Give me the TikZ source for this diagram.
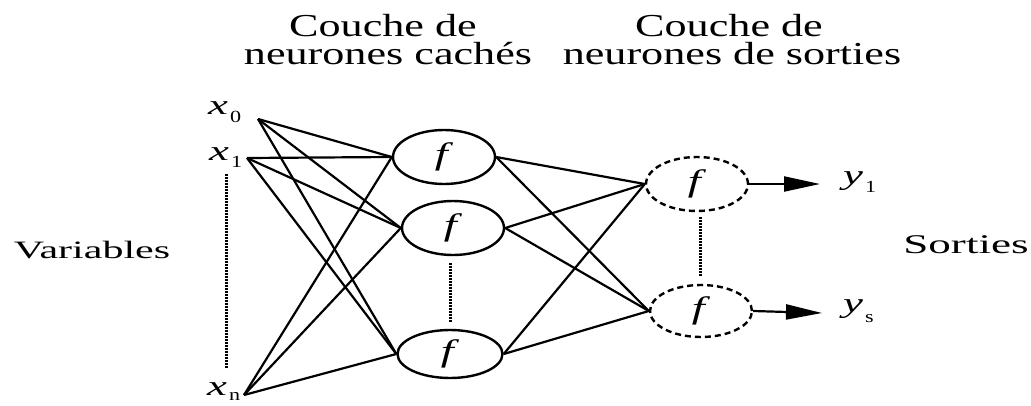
\documentclass[tikz,border=0pt]{standalone}
\usepackage{fontspec}
\setmainfont{Liberation Serif}
\usetikzlibrary{shapes.geometric,arrows.meta}
\newcommand\hsc[2]{\scalebox{#1}[1]{#2}}
\newcommand\lab[3]{\hsc{1.6}{\fontsize{28}{28}\selectfont\textit{#1}}\kern2pt\raisebox{-#3}{\hsc{1.3}{\fontsize{17}{17}\selectfont #2}}}
\newcommand\ff{\hsc{1.5}{\fontsize{31}{31}\selectfont\textit{f}}}
\begin{document}
\begin{tikzpicture}[x=1pt,y=-1pt,
  conn/.style={line width=2.2pt},
  hid/.style={ellipse,draw,line width=2.4pt,minimum width=102pt,minimum height=54pt,inner sep=0pt},
  outn/.style={hid,dash pattern=on 6pt off 4pt},
  dots/.style={line width=3pt,dash pattern=on 1.5pt off 1.5pt},
  arr/.style={line width=2.2pt,-{Triangle[length=36pt,width=15pt]}},
  lbl/.style={anchor=base west,inner sep=0pt},
  ttl/.style={anchor=base,inner sep=0pt,font=\fontsize{32}{32}\selectfont}
]
\useasboundingbox (0,0) rectangle (1031,405);
% titles
\node[ttl] (t1a) at (383,36) {\hsc{1.38}{Couche de}};
\node[ttl] (t1b) at (388,64) {\hsc{1.38}{neurones cachés}};
\node[ttl] (t2a) at (729,36) {\hsc{1.38}{Couche de}};
\node[ttl] (t2b) at (732,64) {\hsc{1.38}{neurones de sorties}};
\node[anchor=base,inner sep=0pt,font=\fontsize{25}{25}\selectfont] (var) at (92,258) {\hsc{1.68}{Variables}};
\node[anchor=base,inner sep=0pt,font=\fontsize{27}{27}\selectfont] (sor) at (966,253) {\hsc{1.67}{Sorties}};
% neurons
\node[hid] (h1) at (444,157) {\ff};
\node[hid] (h2) at (453,228) {\ff};
\node[hid,minimum height=48pt,minimum width=105pt] (h3) at (450,354) {\ff};
\node[outn] (o1) at (697,184) {\ff};
\node[outn,minimum height=52pt] (o2) at (701,311) {\ff};
% inputs
\coordinate (x0) at (258,119);
\coordinate (x1) at (247,158);
\coordinate (xn) at (244,395);
\node[lbl] (lx0) at (208,114) {\lab{x}{0}{8pt}};
\node[lbl] (lx1) at (209,160) {\lab{x}{1}{7pt}};
\node[lbl] (lxn) at (207,395) {\lab{x}{n}{5pt}};
% outputs
\coordinate (y1a) at (820,184);
\coordinate (ysa) at (822,313);
\node[lbl] (ly1) at (843,184) {\lab{y}{1}{8pt}};
\node[lbl] (lys) at (843,312) {\lab{y}{s}{10pt}};
% dotted
\coordinate (d1a) at (226,174);
\coordinate (d1b) at (226,369);
\coordinate (d2a) at (450,263);
\coordinate (d2b) at (450,323);
\coordinate (d3a) at (700,217);
\coordinate (d3b) at (700,277);
\draw[dots] (d1a) -- (d1b);
\draw[dots] (d2a) -- (d2b);
\draw[dots] (d3a) -- (d3b);
% connections
\foreach \i in {x0,x1,xn}
  \foreach \h in {h1,h2,h3}
    \draw[conn] (\i) -- (\h.west);
\foreach \h in {h1,h2,h3}
  \foreach \o in {o1,o2}
    \draw[conn] (\h.east) -- (\o.west);
\draw[arr] (o1.east) -- (y1a);
\draw[arr] (o2.east) -- (ysa);
\end{tikzpicture}
\end{document}
